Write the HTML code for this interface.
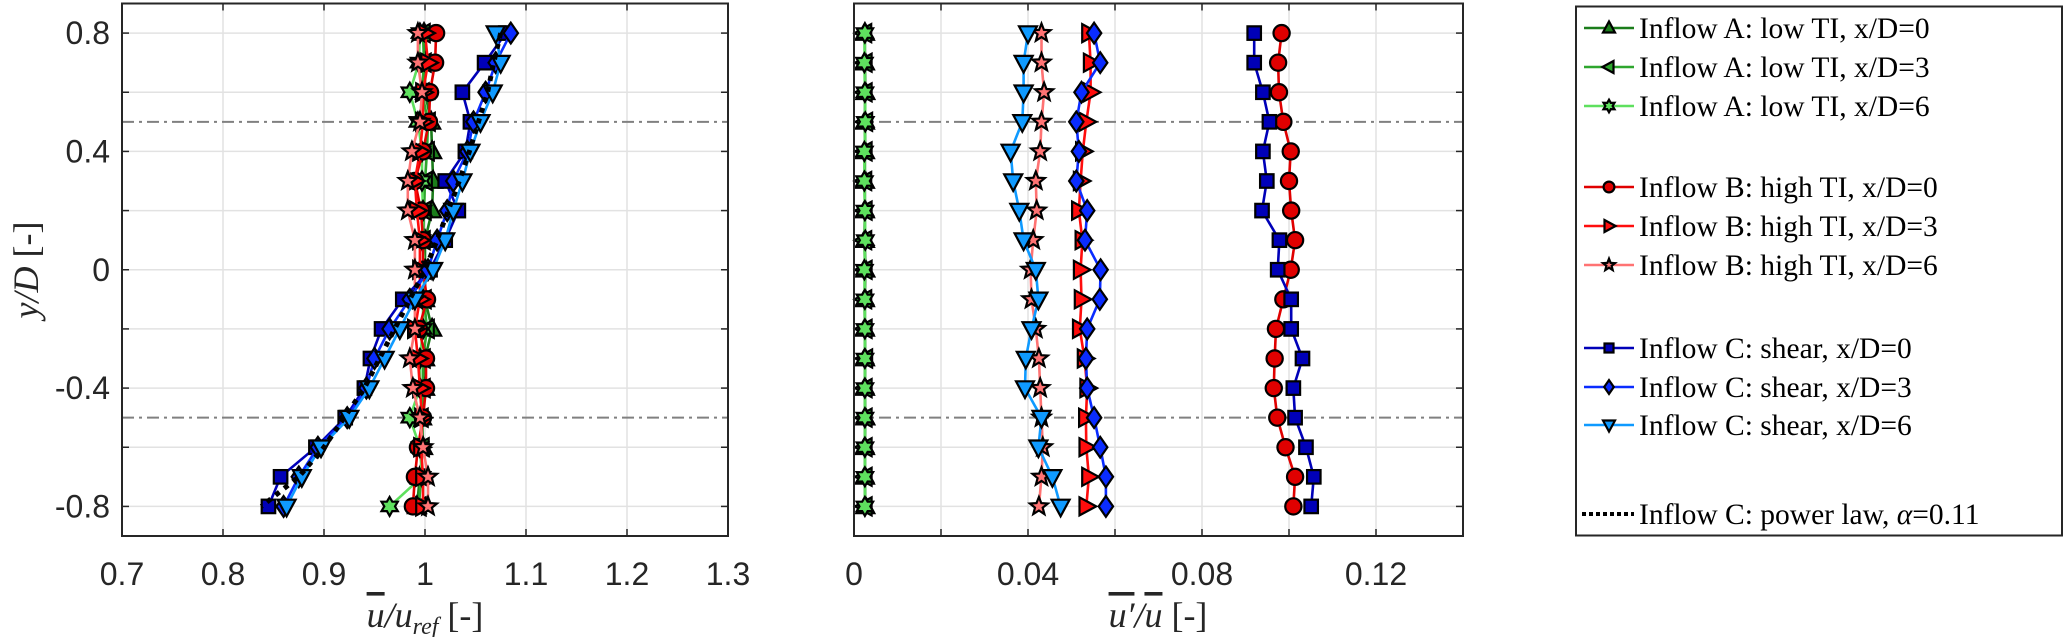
<!DOCTYPE html>
<html><head><meta charset="utf-8"><style>
html,body{margin:0;padding:0;background:#fff;}
svg{display:block;}
.tick{font-family:"Liberation Sans",sans-serif;font-size:32px;fill:#262626;}
.lab{font-family:"Liberation Serif",serif;font-size:36px;fill:#262626;}
.leg{font-family:"Liberation Serif",serif;font-size:29.5px;fill:#000;}
</style></head><body>
<svg id="fig" width="2067" height="637" viewBox="0 0 2067 637" xmlns="http://www.w3.org/2000/svg"></svg>
<script>
// ---- data ----
const yPos = [0.8,0.7,0.6,0.5,0.4,0.3,0.2,0.1,0,-0.1,-0.2,-0.3,-0.4,-0.5,-0.6,-0.7,-0.8];
// mean velocity (left panel)
const uA0 = [0.999,1.0,1.0,1.006,1.007,1.008,1.007,1.0,1.0,1.0,1.007,1.0,1.0,0.997,0.998,0.995,0.992];
const uA3 = [0.998,0.999,0.997,1.003,1.002,1.0,0.999,0.998,0.999,0.999,1.002,0.998,0.998,0.996,0.997,0.996,0.994];
const uA6 = [0.995,0.994,0.985,0.993,0.997,0.997,0.998,0.997,1.0,0.998,0.998,0.995,0.995,0.985,0.995,0.997,0.965];
const uB0 = [1.011,1.01,1.005,1.004,0.998,0.99,0.996,0.998,0.998,1.002,0.994,1.001,1.001,0.998,0.993,0.99,0.988];
const uB3 = [1.0,1.003,0.998,0.998,0.995,0.99,0.992,0.995,0.995,0.995,0.99,0.993,0.995,0.997,0.996,0.998,0.998];
const uB6 = [0.993,0.993,0.997,0.995,0.987,0.983,0.983,0.99,0.99,0.99,0.99,0.985,0.988,0.995,0.998,1.003,1.003];
const uC0 = [1.08,1.059,1.037,1.045,1.04,1.02,1.033,1.02,1.005,0.978,0.957,0.946,0.94,0.921,0.892,0.857,0.845];
const uC3 = [1.085,1.07,1.06,1.048,1.042,1.028,1.022,1.012,1.003,0.985,0.965,0.95,0.942,0.923,0.894,0.875,0.86];
const uC6 = [1.07,1.075,1.067,1.055,1.045,1.037,1.028,1.02,1.008,0.99,0.975,0.96,0.945,0.925,0.897,0.878,0.863];
const uPow = [1.075,1.068,1.062,1.053,1.044,1.034,1.023,1.012,1.0,0.985,0.97,0.955,0.94,0.92,0.9,0.875,0.838];
// turbulence intensity (right panel)
const tA0 = [0.0025,0.0025,0.0026,0.0025,0.0025,0.0025,0.0025,0.0025,0.0026,0.0025,0.0025,0.0025,0.0025,0.0026,0.0025,0.0025,0.0026];
const tA3 = [0.0024,0.0025,0.0025,0.0026,0.0025,0.0024,0.0025,0.0024,0.0025,0.0024,0.0025,0.0026,0.0025,0.0025,0.0025,0.0025,0.0025];
const tA6 = [0.0025,0.0024,0.0025,0.0026,0.0024,0.0024,0.0025,0.0026,0.0024,0.0025,0.0025,0.0025,0.0025,0.0025,0.0025,0.0025,0.0025];
const tB0 = [0.0983,0.0975,0.0977,0.0987,0.1004,0.1,0.1005,0.1014,0.1004,0.0987,0.097,0.0967,0.0965,0.0973,0.0992,0.1014,0.101];
const tB3 = [0.054,0.0544,0.0544,0.0534,0.0526,0.0521,0.0517,0.0525,0.0521,0.0523,0.0519,0.053,0.0536,0.0533,0.0534,0.054,0.0534];
const tB6 = [0.0431,0.0431,0.0437,0.0431,0.0428,0.0418,0.042,0.0412,0.0406,0.0408,0.0418,0.0425,0.0428,0.0431,0.0434,0.0431,0.0425];
const tC0 = [0.092,0.092,0.094,0.0955,0.094,0.0949,0.0938,0.0978,0.0974,0.1005,0.1005,0.1031,0.101,0.1014,0.1039,0.1057,0.1051];
const tC3 = [0.0552,0.0566,0.0523,0.0511,0.0517,0.0511,0.0536,0.0531,0.0567,0.0565,0.0536,0.0533,0.0536,0.0552,0.0566,0.0579,0.0579];
const tC6 = [0.040,0.039,0.039,0.0387,0.036,0.0366,0.038,0.039,0.0418,0.0424,0.0408,0.0395,0.0393,0.0431,0.0424,0.0456,0.0475];
const leftTicks = ["0.7","0.8","0.9","1","1.1","1.2","1.3"];
const rightTicks = ["0","0.04","0.08","0.12"];
const yTickLabels = ["-0.8","-0.4","0","0.4","0.8"];

const NS="http://www.w3.org/2000/svg";
const svg=document.getElementById('fig');
function el(tag,attrs,parent){const e=document.createElementNS(NS,tag);for(const k in attrs)e.setAttribute(k,attrs[k]);(parent||svg).appendChild(e);return e;}

const yTop=3.5, yBot=536;
function Y(v){return yTop+(0.9-v)/1.8*(yBot-yTop);}
const L={x0:122,x1:728,min:0.7,max:1.3};
const R={x0:854,x1:1463,min:0,max:0.14};
function X(ax,v){return ax.x0+(v-ax.min)/(ax.max-ax.min)*(ax.x1-ax.x0);}

function marker(g,type,cx,cy,fill,s){
  let e;
  const st={fill:fill,stroke:'#000','stroke-width':2.2};
  if(type==='o'){e=el('circle',Object.assign({cx:cx,cy:cy,r:s*0.9},st),g);}
  else if(type==='s'){e=el('rect',Object.assign({x:cx-s*0.75,y:cy-s*0.75,width:s*1.5,height:s*1.5},st),g);}
  else{
    let pts=[];
    if(type==='^')pts=[[0,-1.1],[1,0.75],[-1,0.75]];
    else if(type==='v')pts=[[0,1.1],[1,-0.75],[-1,-0.75]];
    else if(type==='<')pts=[[-1.1,0],[0.75,-1],[0.75,1]];
    else if(type==='>')pts=[[1.1,0],[-0.75,-1],[-0.75,1]];
    else if(type==='d')pts=[[0,-1.15],[0.8,0],[0,1.15],[-0.8,0]];
    else if(type==='p'||type==='h'){const n=type==='p'?5:6;const ri=type==='p'?0.45:0.6;for(let i=0;i<2*n;i++){const a=-Math.PI/2+i*Math.PI/n;const r=i%2?ri:1.05;pts.push([r*Math.cos(a),r*Math.sin(a)]);}}
    e=el('polygon',Object.assign({points:pts.map(p=>(cx+p[0]*s).toFixed(1)+','+(cy+p[1]*s).toFixed(1)).join(' ')},st),g);
  }
  return e;
}

function axesFrame(ax,name,xtickVals,xtickLabs,gridX,labelY){
  const g=el('g',{});
  
  
  gridX.forEach(v=>{const l=el('line',{x1:X(ax,v),x2:X(ax,v),y1:yTop,y2:yBot,stroke:'#e2e2e2','stroke-width':1.5},g);});
  for(let i=-4;i<=4;i++){const v=i*0.2;const l=el('line',{x1:ax.x0,x2:ax.x1,y1:Y(v),y2:Y(v),stroke:'#e2e2e2','stroke-width':1.5},g);}
  [0.5,-0.5].forEach(v=>{const l=el('line',{x1:ax.x0,x2:ax.x1,y1:Y(v),y2:Y(v),stroke:'#808080','stroke-width':2,'stroke-dasharray':'12 5 3 5'},g);});
  gridX.forEach(v=>{const x=X(ax,v);el('line',{x1:x,x2:x,y1:yBot,y2:yBot-7,stroke:'#262626','stroke-width':1.5},g);el('line',{x1:x,x2:x,y1:yTop,y2:yTop+7,stroke:'#262626','stroke-width':1.5},g);});
  for(let i=-4;i<=4;i++){const y=Y(i*0.2);el('line',{x1:ax.x0,x2:ax.x0+7,y1:y,y2:y,stroke:'#262626','stroke-width':1.5},g);el('line',{x1:ax.x1,x2:ax.x1-7,y1:y,y2:y,stroke:'#262626','stroke-width':1.5},g);}
  xtickVals.forEach((v,i)=>{const t=el('text',{x:X(ax,v),y:585,'text-anchor':'middle',class:'tick'},g);t.textContent=xtickLabs[i];});
  if(labelY){yTickLabels.forEach(s=>{const t=el('text',{x:ax.x0-12,y:Y(parseFloat(s))+11,'text-anchor':'end',class:'tick'},g);t.textContent=s;});}
  return g;
}
function frame(ax){const r=el('rect',{x:ax.x0,y:yTop,width:ax.x1-ax.x0,height:yBot-yTop,fill:'none',stroke:'#262626','stroke-width':2});}

axesFrame(L,'left-axes',[0.7,0.8,0.9,1.0,1.1,1.2,1.3],leftTicks,[0.7,0.8,0.9,1.0,1.1,1.2,1.3],true);
axesFrame(R,'right-axes',[0,0.04,0.08,0.12],rightTicks,[0,0.02,0.04,0.06,0.08,0.1,0.12,0.14],false);

const series=[
 {n:'inflow-a-xd0',c:'#1b7d1b',m:'^',u:uA0,t:tA0},
 {n:'inflow-a-xd3',c:'#2ea62e',m:'<',u:uA3,t:tA3},
 {n:'inflow-a-xd6',c:'#5ee05e',m:'h',u:uA6,t:tA6},
 {n:'inflow-b-xd0',c:'#e00000',m:'o',u:uB0,t:tB0},
 {n:'inflow-b-xd3',c:'#ff0d0d',m:'>',u:uB3,t:tB3},
 {n:'inflow-b-xd6',c:'#ff7373',m:'p',u:uB6,t:tB6},
 {n:'inflow-c-xd0',c:'#0000b8',m:'s',u:uC0,t:tC0},
 {n:'inflow-c-xd3',c:'#0a2cff',m:'d',u:uC3,t:tC3},
 {n:'inflow-c-xd6',c:'#0f9aff',m:'v',u:uC6,t:tC6}
];
function plotSeries(ax,s,vals,suffix){
  const g=el('g',{});
  
  
  const pts=vals.map((v,i)=>X(ax,v).toFixed(1)+','+Y(yPos[i]).toFixed(1)).join(' ');
  el('polyline',{points:pts,fill:'none',stroke:s.c,'stroke-width':2.6},g);
  vals.forEach((v,i)=>{const mk=marker(g,s.m,X(ax,v),Y(yPos[i]),s.c,9);});
}
series.forEach(s=>plotSeries(L,s,s.u,'mean'));
const pw=el('polyline',{points:uPow.map((v,i)=>X(L,v).toFixed(1)+','+Y(yPos[i]).toFixed(1)).join(' '),fill:'none',stroke:'#000','stroke-width':5,'stroke-dasharray':'5 6'});


series.forEach(s=>plotSeries(R,s,s.t,'ti'));
frame(L);frame(R);

let t=el('text',{x:425,y:627,'text-anchor':'middle',class:'lab'});
t.innerHTML='<tspan font-style="italic" text-decoration="overline">u</tspan><tspan font-style="italic">/u</tspan><tspan font-style="italic" font-size="24" dy="7">ref</tspan><tspan dy="-7"> [-]</tspan>';


t=el('text',{x:1158,y:627,'text-anchor':'middle',class:'lab'});
t.innerHTML='<tspan font-style="italic" text-decoration="overline">u′</tspan><tspan font-style="italic">/</tspan><tspan font-style="italic" text-decoration="overline">u</tspan><tspan> [-]</tspan>';


t=el('text',{x:0,y:0,'text-anchor':'middle',class:'lab',transform:'translate(38,270) rotate(-90)'});
t.innerHTML='<tspan font-style="italic">y/D</tspan> [-]';



const lg=el('g',{});


el('rect',{x:1576,y:6.5,width:486,height:529,fill:'#fff',stroke:'#262626','stroke-width':2},lg);
const legLabels=['Inflow A: low TI, x/D=0','Inflow A: low TI, x/D=3','Inflow A: low TI, x/D=6','Inflow B: high TI, x/D=0','Inflow B: high TI, x/D=3','Inflow B: high TI, x/D=6','Inflow C: shear, x/D=0','Inflow C: shear, x/D=3','Inflow C: shear, x/D=6'];
const legRows=[28,67,106,187,226,265,348,387,425];
series.forEach((s,i)=>{
  const e=el('g',{},lg);
  
  
  const y=legRows[i];
  el('line',{x1:1584,x2:1634,y1:y,y2:y,stroke:s.c,'stroke-width':2.6},e);
  marker(e,s.m,1609,y,s.c,6);
  const tx=el('text',{x:1639,y:y+10,class:'leg'},e);tx.textContent=legLabels[i];
});
const pe=el('g',{},lg);


el('line',{x1:1582,x2:1634,y1:514,y2:514,stroke:'#000','stroke-width':4,'stroke-dasharray':'4 3'},pe);
const ptx=el('text',{x:1639,y:524,class:'leg'},pe);ptx.innerHTML='Inflow C: power law, <tspan font-style="italic">α</tspan>=0.11';
</script>
</body></html>
